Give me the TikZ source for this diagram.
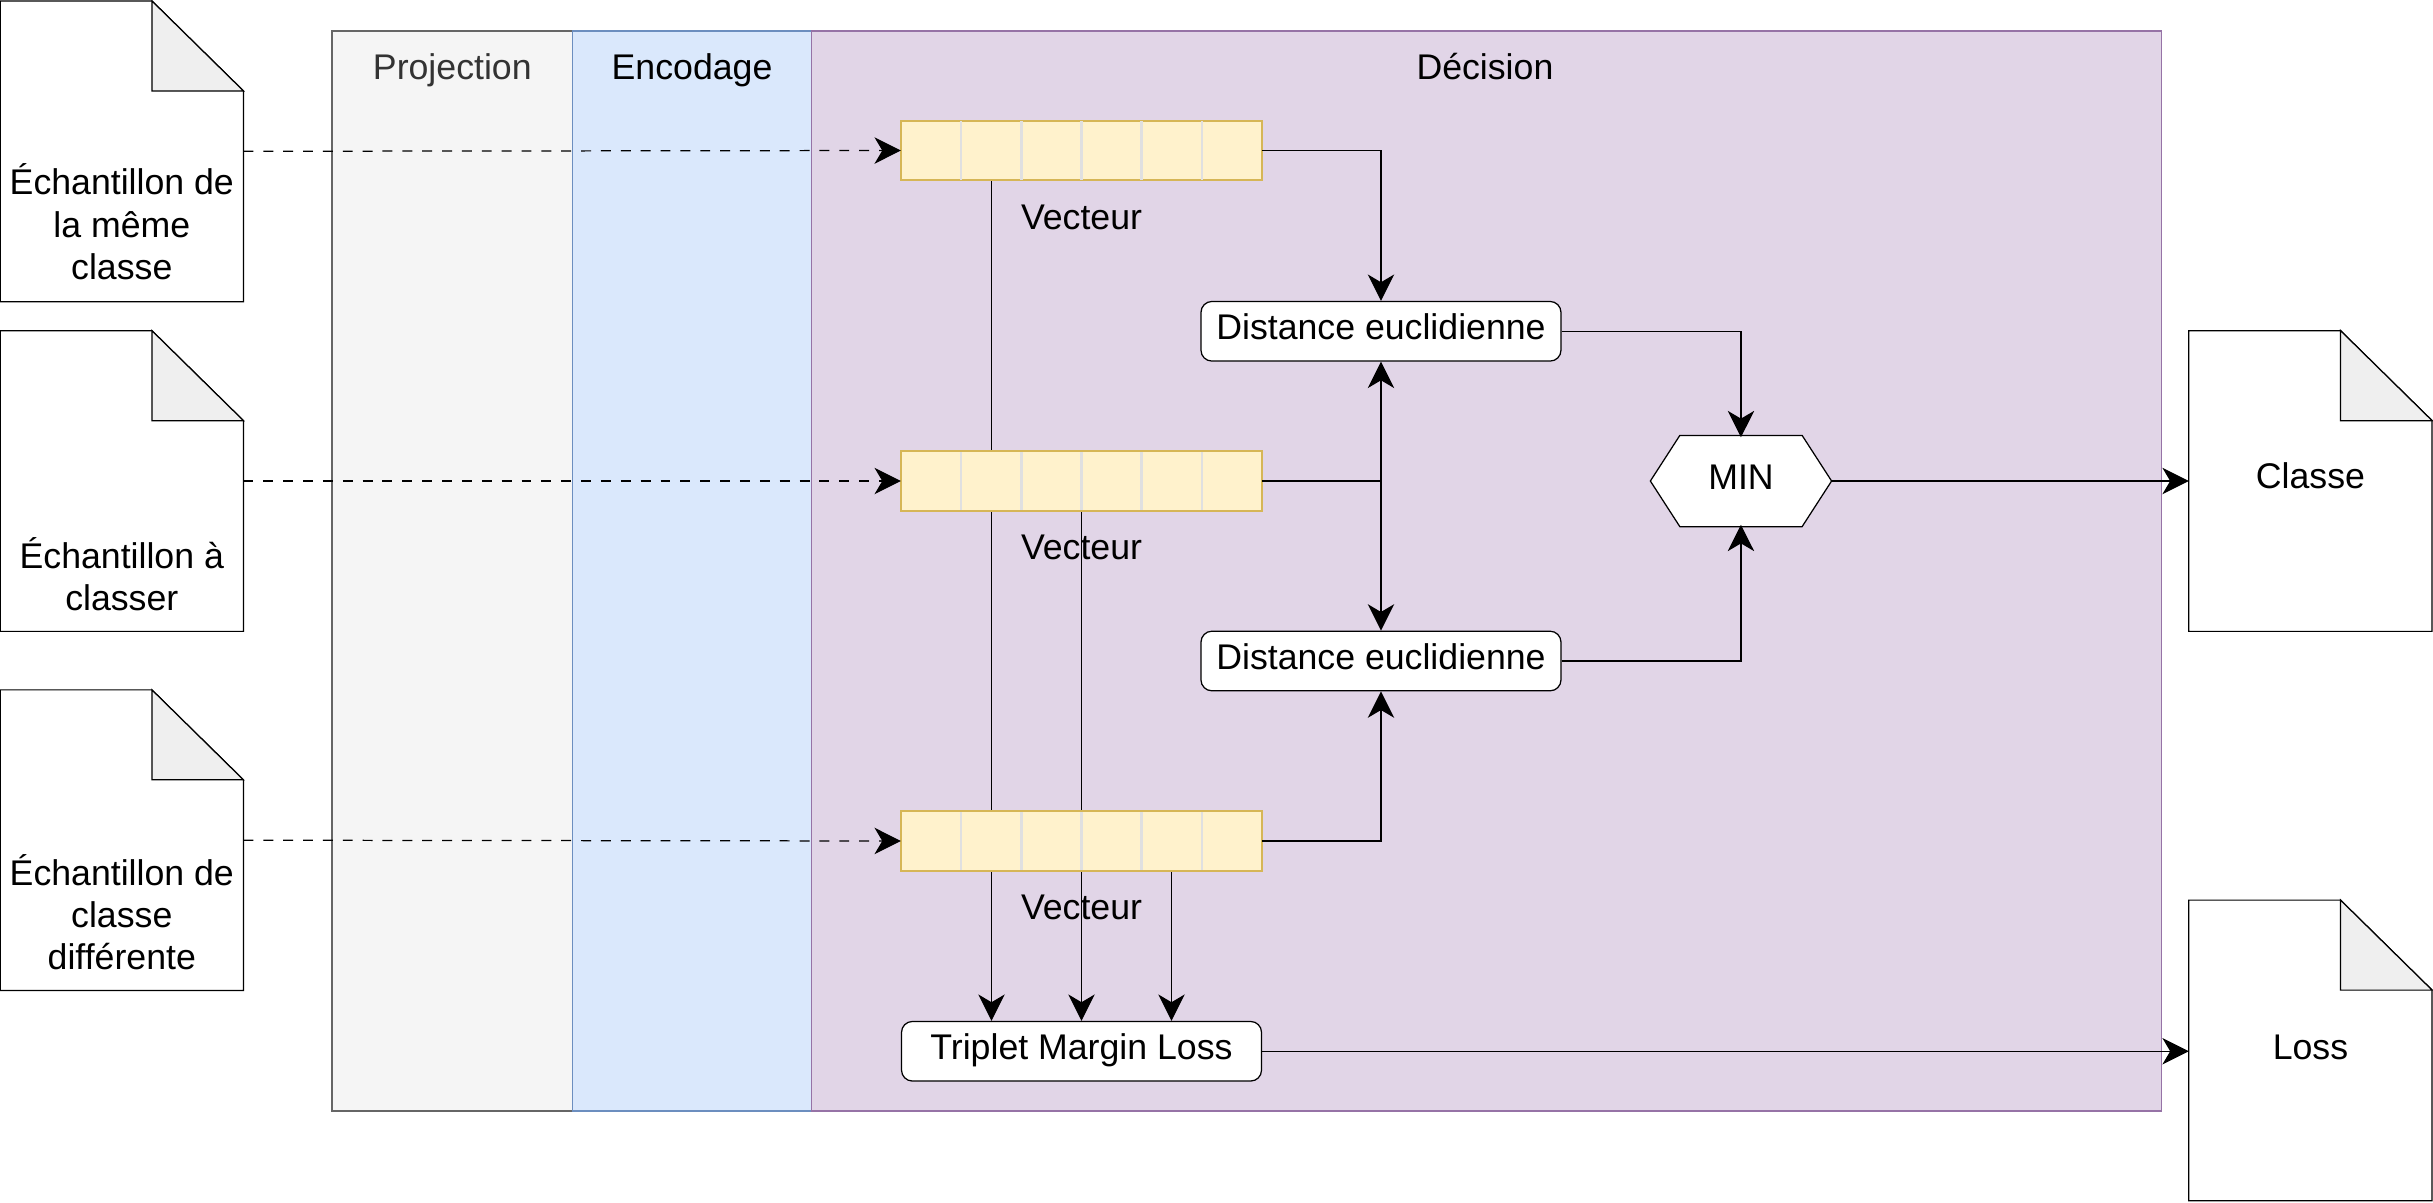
\documentclass[tikz,border=0pt]{standalone}
\usepackage{fontspec}
\setmainfont{Liberation Sans}
\usetikzlibrary{arrows.meta,calc}
\definecolor{projfill}{HTML}{F5F5F5}
\definecolor{projdraw}{HTML}{666666}
\definecolor{projtext}{HTML}{333333}
\definecolor{encfill}{HTML}{DAE8FC}
\definecolor{encdraw}{HTML}{6C8EBF}
\definecolor{decfill}{HTML}{E1D5E7}
\definecolor{decdraw}{HTML}{9673A6}
\definecolor{vecfill}{HTML}{FFF2CC}
\definecolor{vecdraw}{HTML}{D6B656}
\definecolor{cellline}{HTML}{E0E0E0}
\definecolor{foldgray}{HTML}{EFEFEF}
\pgfdeclarelayer{lanes}
\pgfdeclarelayer{wires}
\pgfsetlayers{lanes,wires,main}
\tikzset{
  lane/.style={rectangle, inner sep=0pt, minimum height=348pt},
  docbox/.style={rectangle, inner sep=0pt, minimum width=78pt, minimum height=96.5pt, draw=none},
  doctext/.style={align=center, inner sep=0pt},
  vecbox/.style={rectangle, inner sep=0pt, minimum width=116pt, minimum height=19pt, fill=vecfill, draw=vecdraw},
  procbox/.style={rectangle, rounded corners=3.5pt, inner sep=0pt, minimum width=116pt, minimum height=19.2pt, fill=white, draw=black, text height=8pt, text depth=2.8pt},
  hexbox/.style={rectangle, inner sep=0pt, minimum width=58pt, minimum height=29pt, draw=none, text height=8pt, text depth=2.8pt},
  plainlabel/.style={inner sep=0pt, anchor=base},
  arr/.style={-{Stealth[length=8.5pt,width=8.5pt,inset=2.5pt]}},
  darr/.style={arr, dash pattern=on 3.2pt off 3.2pt},
}
\newcommand\drawdocshape[1]{%
  \draw[fill=white] (#1.north west) -- ([xshift=-29.5pt]#1.north east) -- ([yshift=-29pt]#1.north east) -- (#1.south east) -- (#1.south west) -- cycle;
  \draw[fill=foldgray] ([xshift=-29.5pt]#1.north east) -- ([xshift=-29.5pt,yshift=-29pt]#1.north east) -- ([yshift=-29pt]#1.north east) -- cycle;}
\newcommand\drawcells[1]{%
  \foreach \k in {1,...,5}{\draw[cellline, line width=0.8pt] ($(#1.south west)!\k/6!(#1.south east)$) -- ($(#1.north west)!\k/6!(#1.north east)$);}
  \draw[vecdraw] (#1.south west) rectangle (#1.north east);}
\begin{document}
\begin{tikzpicture}[x=0.5pt,y=-0.5pt, font=\fontsize{11.5}{13.6}\selectfont, line width=1.1pt]
\useasboundingbox (0,0) rectangle (1568,775);

% swimlanes
\begin{pgfonlayer}{lanes}
\node[lane, fill=projfill, draw=projdraw, minimum width=77.5pt] (proj) at (291.5,368) {};
\node[lane, fill=encfill, draw=encdraw, minimum width=77pt] (enc) at (446,368) {};
\node[lane, fill=decfill, draw=decdraw, minimum width=435pt] (dec) at (958,368) {};
\end{pgfonlayer}
\node[plainlabel, text=projtext] (projT) at (291.5,51.5) {Projection};
\node[plainlabel] (encT) at (446,51.5) {Encodage};
\node[plainlabel] (decT) at (957,51.5) {Décision};

% documents
\node[docbox] (d1) at (78.5,97.5) {};
\node[docbox] (d2) at (78.5,310) {};
\node[docbox] (d3) at (78.5,541.5) {};
\node[docbox] (classe) at (1489,310) {};
\node[docbox] (loss) at (1489,677) {};
\begin{pgfonlayer}{wires}
\drawdocshape{d1}
\drawdocshape{d2}
\drawdocshape{d3}
\drawdocshape{classe}
\drawdocshape{loss}
\end{pgfonlayer}
\node[doctext] (d1t) at (78.5,143) {Échantillon de\\la même\\classe};
\node[doctext] (d2t) at (78.5,370) {Échantillon à\\classer};
\node[doctext] (d3t) at (78.5,588) {Échantillon de\\classe\\différente};
\node[plainlabel] (classet) at (1489,315) {Classe};
\node[plainlabel] (losst) at (1489,683) {Loss};

% vectors
\node[vecbox] (v1) at (697,97) {};
\node[vecbox] (v2) at (697,310) {};
\node[vecbox] (v3) at (697,542) {};
\drawcells{v1}
\drawcells{v2}
\drawcells{v3}
\node[plainlabel] (v1l) at (697,147.8) {Vecteur};
\node[plainlabel] (v2l) at (697,360.8) {Vecteur};
\node[plainlabel] (v3l) at (697,592.8) {Vecteur};

% processing
\node[procbox] (dist1) at (890,213.5) {Distance euclidienne};
\node[procbox] (dist2) at (890,426) {Distance euclidienne};
\node[procbox] (trip) at (697,677.5) {Triplet Margin Loss};
\node[hexbox] (min) at (1122,310) {MIN};
\begin{pgfonlayer}{wires}
\draw[fill=white] (min.west) -- ([xshift=9.5pt]min.north west) -- ([xshift=-9.5pt]min.north east) -- (min.east) -- ([xshift=-9.5pt]min.south east) -- ([xshift=9.5pt]min.south west) -- cycle;
% lines running behind the vectors
\draw[arr] ([xshift=-29pt]v1.south) -- ([xshift=-29pt]trip.north);
\draw[arr] (v2.south) -- (trip.north);
\draw[arr] ([xshift=29pt]v3.south) -- ([xshift=29pt]trip.north);
\end{pgfonlayer}

% dashed inputs
\draw[darr] (d1.east) -- (v1.west);
\draw[darr] (d2.east) -- (v2.west);
\draw[darr] (d3.east) -- (v3.west);

% connectors
\coordinate (j2) at (dist1.south |- v2.east);
\draw[arr] (v1.east) -| (dist1.north);
\draw (v2.east) -- (j2);
\draw[arr] (j2) -- (dist1.south);
\draw[arr] (j2) -- (dist2.north);
\draw[arr] (v3.east) -| (dist2.south);
\draw[arr] (dist1.east) -| ([yshift=-0.6pt]min.north);
\draw[arr] (dist2.east) -| ([yshift=0.6pt]min.south);
\draw[arr] (min.east) -- (classe.west);
\draw[arr] (trip.east) -- (trip.east -| loss.west);
\end{tikzpicture}
\end{document}
